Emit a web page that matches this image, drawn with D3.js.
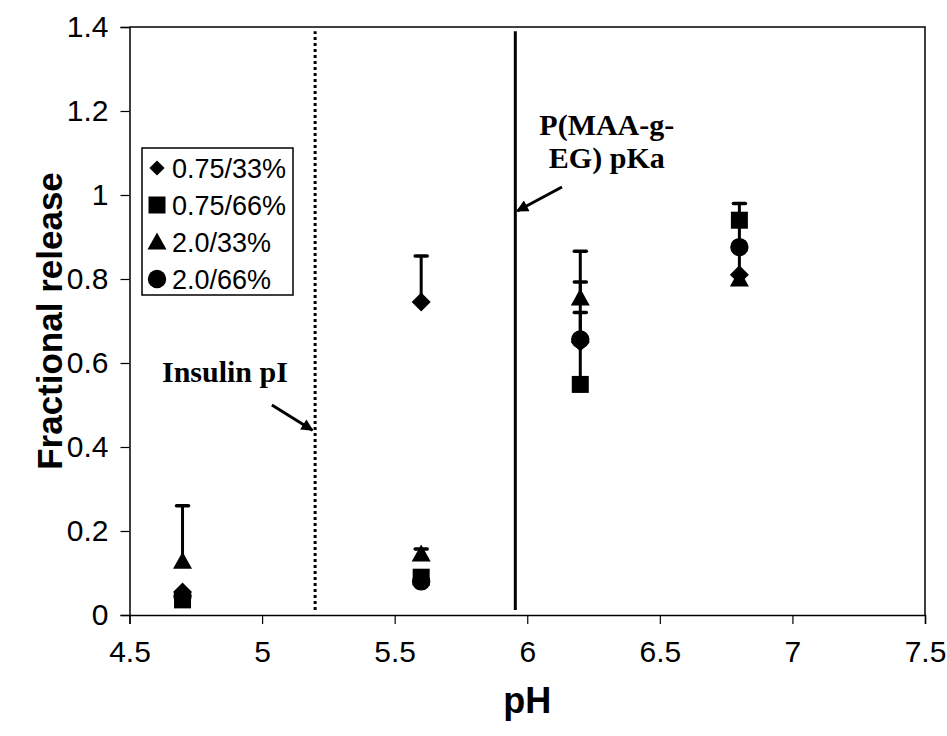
<!DOCTYPE html>
<html>
<head>
<meta charset="utf-8">
<script src="https://cdn.jsdelivr.net/npm/d3@7"></script>
<style>
  body { margin: 0; background: #fff; }
  svg { display: block; }
</style>
</head>
<body>
<div id="chart"></div>
<script>
// canvas size
const width = 947;
const height = 736;

// data
const phValues = [4.7, 5.6, 6.2, 6.8];
const seriesNames = ["0.75/33%", "0.75/66%", "2.0/33%", "2.0/66%"];
const seriesShapes = ["diamond", "square", "triangle", "circle"];
const release_75_33 = [0.055, 0.745, 0.65, 0.81];
const release_75_66 = [0.036, 0.09, 0.549, 0.94];
const release_20_33 = [0.128, 0.145, 0.755, 0.80];
const release_20_66 = [0.045, 0.08, 0.656, 0.876];
const err_75_33 = [0, 0.11, 0, 0.06];
const err_75_66 = [0, 0, 0.171, 0.04];
const err_20_33 = [0.132, 0.012, 0.111, 0];
const err_20_66 = [0, 0, 0.137, 0.06];
const xTicks = [4.5, 5, 5.5, 6, 6.5, 7, 7.5];
const yTicks = [0, 0.2, 0.4, 0.6, 0.8, 1, 1.2, 1.4];
const insulinPI = 5.2;
const polymerPKa = 5.955;

const seriesValues = [release_75_33, release_75_66, release_20_33, release_20_66];
const seriesErrors = [err_75_33, err_75_66, err_20_33, err_20_66];

const x = d3.scaleLinear().domain([4.5, 7.5]).range([129.5, 925]);
const y = d3.scaleLinear().domain([0, 1.4]).range([615, 27]);

const sansFont = "'Liberation Sans', Arial, sans-serif";
const serifFont = "'Liberation Serif', 'Times New Roman', serif";

const svg = d3.select("#chart")
  .append("svg")
  .attr("width", width)
  .attr("height", height);

// marker shapes, sized like the Excel markers
function markerPath(shape) {
    if (shape === "diamond") return "M0,-9.5L9.5,0L0,9.5L-9.5,0Z";
    if (shape === "square") return "M-8.5,-8.5H8.5V8.5H-8.5Z";
    if (shape === "triangle") return "M0,-9.5L9.5,7.5H-9.5Z";
    return d3.symbol().type(d3.symbolCircle).size(Math.PI * 9.2 * 9.2)();
}

// plot frame (top and right border)
svg.append("path")
  .attr("d", `M${x(4.5)},${y(1.4)}H${x(7.5)}V${y(0)}`)
  .attr("fill", "none")
  .attr("stroke", "#000")
  .attr("stroke-width", 1.5);

// axes
const xAxis = svg.append("g")
  .attr("transform", `translate(0,${y(0)})`)
  .call(d3.axisBottom(x).tickValues(xTicks).tickSize(9).tickPadding(17)
    .tickFormat(d3.format("")));

const yAxis = svg.append("g")
  .attr("transform", `translate(${x(4.5)},0)`)
  .call(d3.axisLeft(y).tickValues(yTicks).tickSize(9).tickPadding(12)
    .tickFormat(d3.format("")));

[xAxis, yAxis].forEach(a => {
    a.select(".domain").attr("stroke-width", 1.5);
    a.selectAll(".tick line").attr("stroke-width", 1.2);
    a.selectAll("text")
      .attr("font-family", sansFont)
      .attr("font-size", 30)
      .attr("fill", "#000");
});

// axis titles
svg.append("text")
  .attr("x", (x(4.5) + x(7.5)) / 2)
  .attr("y", 713)
  .attr("text-anchor", "middle")
  .attr("font-family", sansFont)
  .attr("font-weight", "bold")
  .attr("font-size", 36)
  .text("pH");

svg.append("text")
  .attr("transform", `translate(62,${(y(0) + y(1.4)) / 2}) rotate(-90)`)
  .attr("text-anchor", "middle")
  .attr("font-family", sansFont)
  .attr("font-weight", "bold")
  .attr("font-size", 35)
  .text("Fractional release");

// reference lines
svg.append("line")
  .attr("x1", x(insulinPI)).attr("x2", x(insulinPI))
  .attr("y1", y(0.012)).attr("y2", y(1.39))
  .attr("stroke", "#000")
  .attr("stroke-width", 3)
  .attr("stroke-dasharray", "3,3");

svg.append("line")
  .attr("x1", x(polymerPKa)).attr("x2", x(polymerPKa))
  .attr("y1", y(0.012)).attr("y2", y(1.39))
  .attr("stroke", "#000")
  .attr("stroke-width", 3);

// annotation arrows
svg.append("defs").append("marker")
  .attr("id", "arrowhead")
  .attr("viewBox", "0 0 10 10")
  .attr("refX", 9).attr("refY", 5)
  .attr("markerWidth", 5).attr("markerHeight", 4)
  .attr("markerUnits", "strokeWidth")
  .attr("orient", "auto")
  .append("path")
  .attr("d", "M0,0L10,5L0,10Z")
  .attr("fill", "#000");

function arrow(x1, y1, x2, y2) {
    svg.append("line")
      .attr("x1", x(x1)).attr("y1", y(y1))
      .attr("x2", x(x2)).attr("y2", y(y2))
      .attr("stroke", "#000")
      .attr("stroke-width", 3)
      .attr("marker-end", "url(#arrowhead)");
}
arrow(5.037, 0.50, 5.19, 0.44);
arrow(6.131, 1.019, 5.962, 0.962);

function note(px, py, txt) {
    svg.append("text")
      .attr("x", x(px)).attr("y", y(py))
      .attr("text-anchor", "middle")
      .attr("font-family", serifFont)
      .attr("font-weight", "bold")
      .attr("font-size", 30)
      .text(txt);
}
note(4.86, 0.555, "Insulin pI");
note(6.3, 1.143, "P(MAA-g-");
note(6.3, 1.064, "EG) pKa");

// error bars (plus direction only) and markers
seriesValues.forEach((vals, s) => {
    const pts = phValues.map((ph, i) => ({ph: ph, v: vals[i], e: seriesErrors[s][i]}));
    const g = svg.append("g");
    const bars = pts.filter(d => d.e > 0);
    g.selectAll("line.err")
      .data(bars)
      .enter().append("line")
      .attr("x1", d => x(d.ph)).attr("x2", d => x(d.ph))
      .attr("y1", d => y(d.v)).attr("y2", d => y(d.v + d.e))
      .attr("stroke", "#000")
      .attr("stroke-width", 3);
    g.selectAll("line.cap")
      .data(bars)
      .enter().append("line")
      .attr("x1", d => x(d.ph) - 6).attr("x2", d => x(d.ph) + 6)
      .attr("y1", d => y(d.v + d.e)).attr("y2", d => y(d.v + d.e))
      .attr("stroke", "#000")
      .attr("stroke-width", 3.5)
      .attr("stroke-linecap", "round");
    g.selectAll("path.mark")
      .data(pts)
      .enter().append("path")
      .attr("transform", d => `translate(${x(d.ph)},${y(d.v)})`)
      .attr("d", markerPath(seriesShapes[s]))
      .attr("fill", "#000");
});

// legend
const legend = svg.append("g").attr("transform", "translate(142,148)");
legend.append("rect")
  .attr("width", 151)
  .attr("height", 147)
  .attr("fill", "#fff")
  .attr("stroke", "#000")
  .attr("stroke-width", 1.5);

const rows = legend.selectAll("g.row")
  .data(seriesNames)
  .enter().append("g")
  .attr("transform", (d, i) => `translate(0,${20 + i * 37})`);

rows.append("path")
  .attr("d", (d, i) => markerPath(seriesShapes[i]))
  .attr("fill", "#000")
  .attr("transform", (d, i) => `translate(15,0) scale(${i === 0 ? 0.8 : 1})`);

rows.append("text")
  .attr("x", 30)
  .attr("dy", "0.36em")
  .attr("font-family", sansFont)
  .attr("font-size", 27)
  .text(d => d);
</script>
</body>
</html>
